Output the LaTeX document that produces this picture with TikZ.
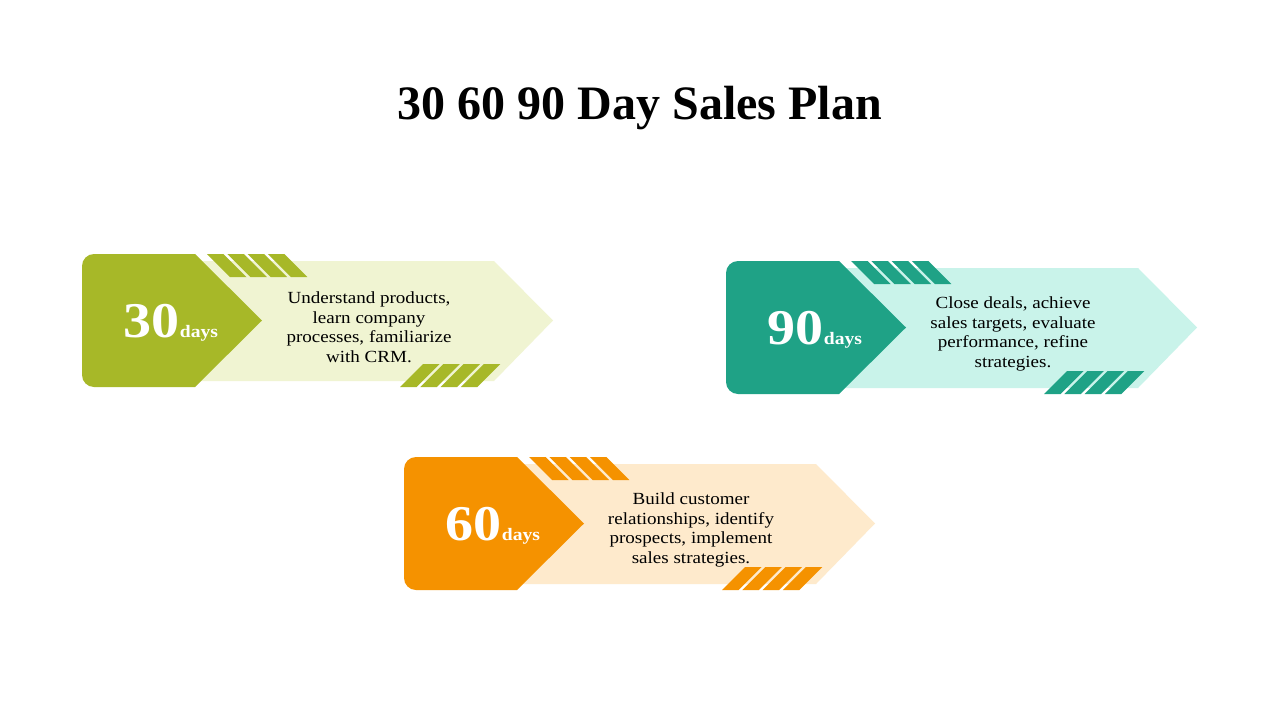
\documentclass[tikz,border=0pt]{standalone}
\usepackage{fontspec}
\setmainfont{Liberation Serif}
\newfontfamily\bodyfont[FakeStretch=1.12]{Liberation Serif}
\newfontfamily\numfont[FakeStretch=1.12]{Liberation Serif}
\definecolor{gdark}{HTML}{A7B828}
\definecolor{glight}{HTML}{F0F4D2}
\definecolor{tdark}{HTML}{1FA286}
\definecolor{tlight}{HTML}{C9F3EA}
\definecolor{odark}{HTML}{F59200}
\definecolor{olight}{HTML}{FEEACC}
\newcommand{\planblock}[6]{%
  \begin{scope}[shift={(#1,#2)}]
    \fill[#4] (180,261) -- (494,261) -- (553,320.5) -- (494,381) -- (180,381) -- cycle;
    \fill[#3] (262,320.5) -- (195,254) -- (94,254)
      arc[start angle=270,end angle=180,radius=12] -- (82,375)
      arc[start angle=180,end angle=90,radius=12] -- (195,387) -- cycle;
    \foreach \i in {0,1,2,3}{
      \fill[#3] ({207+20.3*\i},254) -- ({223.5+20.3*\i},254) -- ({246.5+20.3*\i},277) -- ({230+20.3*\i},277) -- cycle;
      \fill[#3] ({400+20.3*\i},387) -- ({416.5+20.3*\i},387) -- ({439.5+20.3*\i},364) -- ({423+20.3*\i},364) -- cycle;
    }
    \node[numtext] (num#5) at (171,337) {{\fontsize{50}{50}\selectfont #5}{\fontsize{17.5}{17.5}\selectfont days}};
    \node[bodytext] (txt#5) at (369,327) {#6};
  \end{scope}}
\begin{document}
\begin{tikzpicture}[x=1pt,y=-1pt,
  numtext/.style={anchor=base,inner sep=0pt,text=white,font=\numfont\bfseries},
  bodytext/.style={align=center,inner sep=0pt,font=\bodyfont\fontsize{17}{19.5}\selectfont,text=black},
  titletext/.style={anchor=base,inner sep=0pt,font=\fontsize{48}{48}\selectfont\bfseries}]
  \useasboundingbox[fill=white] (0,0) rectangle (1280,720);
  \node[titletext] (title) at (640,119) {30 60 90 Day Sales Plan};
  \planblock{0}{0}{gdark}{glight}{30}{Understand products,\\learn company\\processes, familiarize\\with CRM.}
  \planblock{644}{7}{tdark}{tlight}{90}{Close deals, achieve\\sales targets, evaluate\\performance, refine\\strategies.}
  \planblock{322}{203}{odark}{olight}{60}{Build customer\\relationships, identify\\prospects, implement\\sales strategies.}
\end{tikzpicture}
\end{document}
